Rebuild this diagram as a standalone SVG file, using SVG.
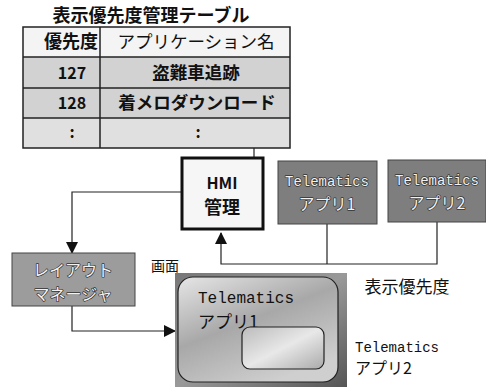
<svg xmlns="http://www.w3.org/2000/svg" width="486" height="387" viewBox="0 0 486 387">
<style>
.jp{font-family:"Noto Sans CJK JP","Noto Sans",sans-serif;fill:#111}
.mono{font-family:"Liberation Mono","DejaVu Sans Mono","Noto Sans CJK JP",monospace}
.ln{stroke:#222;stroke-width:1.2;fill:none}
.cell{stroke:#222;stroke-width:1.5}
.lt{fill:#f2f2f2;stroke:#333;stroke-width:1.4;paint-order:stroke;stroke-linejoin:round}
</style>
<defs>
<marker id="ah" markerWidth="12" markerHeight="12" refX="11" refY="6" orient="auto" markerUnits="userSpaceOnUse">
<path d="M0,0 L12,6 L0,12 Z" fill="#111"/>
</marker>
<linearGradient id="scr" x1="0" y1="0" x2="1" y2="1">
<stop offset="0" stop-color="#777"/><stop offset="0.5" stop-color="#999"/><stop offset="1" stop-color="#555"/>
</linearGradient>
<linearGradient id="app1" x1="0" y1="0" x2="0.6" y2="1">
<stop offset="0" stop-color="#e6e6e6"/><stop offset="0.5" stop-color="#a8a8a8"/><stop offset="1" stop-color="#cfcfcf"/>
</linearGradient>
<linearGradient id="app2" x1="0" y1="0" x2="1" y2="1">
<stop offset="0" stop-color="#bbb"/><stop offset="0.5" stop-color="#e8e8e8"/><stop offset="1" stop-color="#aaa"/>
</linearGradient>
</defs>

<g id="table">
<text class="jp" x="151" y="22" font-size="18" font-weight="bold" text-anchor="middle">表示優先度管理テーブル</text>
<rect x="23" y="27" width="267" height="30" fill="#f4f4f4"/>
<rect x="23" y="57" width="267" height="61" fill="#d2d2d2"/>
<rect x="23" y="118" width="267" height="30" fill="#e0e0e0"/>
<rect class="cell" x="23" y="27" width="267" height="121" fill="none"/>
<line class="cell" x1="23" y1="57" x2="290" y2="57"/>
<line class="cell" x1="23" y1="88" x2="290" y2="88"/>
<line class="cell" x1="23" y1="118" x2="290" y2="118"/>
<line class="cell" x1="100" y1="27" x2="100" y2="148"/>
<text class="jp" x="98" y="48" font-size="18" font-weight="bold" text-anchor="end">優先度</text>
<text class="jp" x="196" y="48" font-size="17.5" text-anchor="middle">アプリケーション名</text>
<text class="jp" x="72" y="79" font-size="16" font-weight="bold" text-anchor="middle">127</text>
<text class="jp" x="196" y="79" font-size="17.5" font-weight="bold" text-anchor="middle">盗難車追跡</text>
<text class="jp" x="72" y="109" font-size="16" font-weight="bold" text-anchor="middle">128</text>
<text class="jp" x="197" y="109" font-size="17.5" font-weight="bold" text-anchor="middle">着メロダウンロード</text>
<text class="jp" x="72" y="138" font-size="16" font-weight="bold" text-anchor="middle">:</text>
<text class="jp" x="198" y="138" font-size="16" font-weight="bold" text-anchor="middle">:</text>
</g>

<g id="connectors">
<line class="ln" x1="254" y1="148" x2="254" y2="158"/>
<polyline class="ln" points="182,192 72,192 72,253" marker-end="url(#ah)"/>
<polyline class="ln" points="72,306 72,331 175,331" marker-end="url(#ah)"/>
<polyline class="ln" points="437,222 437,264 221,264 221,233" marker-end="url(#ah)"/>
<line class="ln" x1="327" y1="224" x2="327" y2="264"/>
<line x1="303" y1="350" x2="346" y2="363" stroke="#222" stroke-width="1"/>
</g>

<g id="hmi">
<rect x="182" y="158" width="81" height="71" fill="#f6f6f6" stroke="#111" stroke-width="3"/>
<text class="jp" x="222" y="189" font-size="16" font-weight="bold" text-anchor="middle">HMI</text>
<text class="jp" x="222" y="214" font-size="18" font-weight="bold" text-anchor="middle">管理</text>
</g>

<g id="app1">
<rect x="278" y="161" width="99" height="63" fill="#7e7e7e" stroke="#444" stroke-width="1"/>
<text class="mono lt" x="327" y="186" font-size="14" text-anchor="middle">Telematics</text>
<text class="jp lt" x="327" y="210" font-size="16" text-anchor="middle">アプリ1</text>
</g>

<g id="app2">
<rect x="388" y="160" width="98" height="62" fill="#7e7e7e" stroke="#444" stroke-width="1"/>
<text class="mono lt" x="437" y="185" font-size="14" text-anchor="middle">Telematics</text>
<text class="jp lt" x="437" y="209" font-size="16" text-anchor="middle">アプリ2</text>
</g>

<g id="priority-label">
<text class="jp" x="407" y="293" font-size="17" text-anchor="middle">表示優先度</text>
</g>

<g id="layout-manager">
<rect x="12" y="253" width="123" height="53" fill="#9c9c9c" stroke="#444" stroke-width="1"/>
<text class="jp lt" x="73" y="276" font-size="16" text-anchor="middle">レイアウト</text>
<text class="jp lt" x="73" y="300" font-size="16" text-anchor="middle">マネージャ</text>
</g>

<g id="screen">
<text class="jp" x="165" y="271" font-size="14" text-anchor="middle">画面</text>
<rect x="175" y="273" width="172" height="114" fill="url(#scr)"/>
<rect x="178" y="277" width="160" height="105" rx="15" fill="url(#app1)" stroke="#222" stroke-width="1.2"/>
<text class="mono" x="198" y="303" font-size="16" fill="#111">Telematics</text>
<text class="jp" x="198" y="328" font-size="17" fill="#111">アプリ1</text>
<rect x="242" y="327" width="82" height="42" rx="8" fill="url(#app2)" stroke="#222" stroke-width="1.2"/>
<text class="mono" x="355" y="352" font-size="14" fill="#111">Telematics</text>
<text class="jp" x="355" y="374" font-size="16" fill="#111">アプリ2</text>
</g>
</svg>
